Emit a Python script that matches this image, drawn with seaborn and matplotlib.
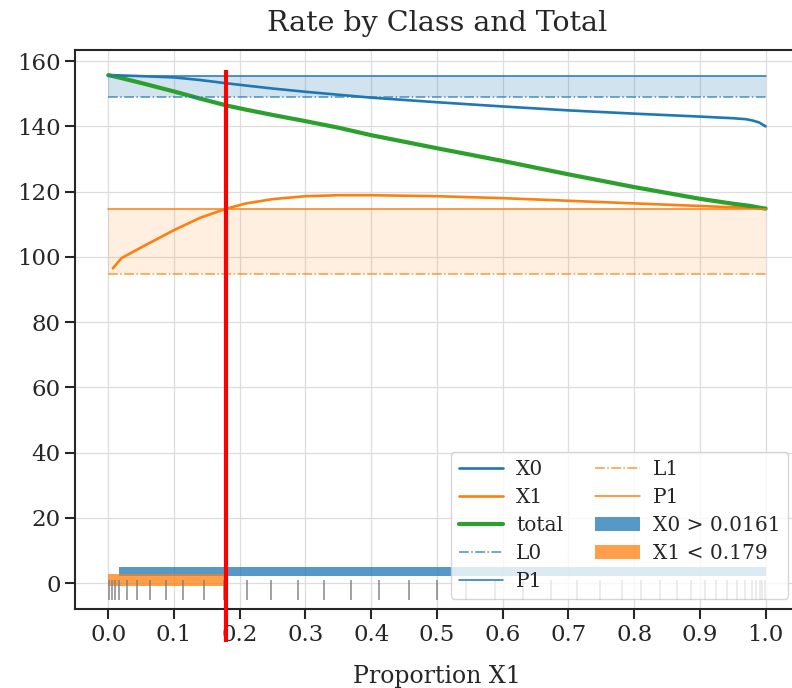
import numpy as np
import matplotlib
matplotlib.use("Agg")
import matplotlib.pyplot as plt
import seaborn as sns

# curve data
prop = [0.0, 0.007, 0.02, 0.05, 0.1, 0.14, 0.18, 0.21, 0.25, 0.3, 0.35, 0.4,
        0.5, 0.6, 0.7, 0.8, 0.9, 0.95, 0.97, 0.98, 0.99, 1.0]
rate_x0 = [155.7, 155.7, 155.6, 155.4, 155.0, 154.2, 153.2, 152.5, 151.6, 150.6, 149.7, 148.8,
           147.4, 146.1, 144.9, 143.9, 143.0, 142.5, 142.2, 141.8, 141.2, 140.0]
rate_total = [155.7, 155.4, 154.8, 153.3, 150.7, 148.5, 146.4, 145.1, 143.5, 141.6, 139.6, 137.3,
              133.3, 129.4, 125.3, 121.4, 117.8, 116.3, 115.8, 115.5, 115.1, 114.8]
prop_x1 = prop[1:]
rate_x1 = [96.5, 99.6, 102.9, 108.2, 112.0, 114.8, 116.4, 117.7, 118.6, 118.9, 118.9,
           118.6, 118.0, 117.2, 116.4, 115.6, 115.2, 115.1, 115.0, 114.9, 114.8]

# reference levels
L0, P0 = 149.1, 155.5
L1, P1 = 94.9, 114.8
x_lo, x_hi = 0.0, 1.0

# thresholds
thr_x0 = 0.0161
thr_x1 = 0.179

# rug positions
rug = [0.0015, 0.006, 0.010, 0.017, 0.028, 0.044, 0.064, 0.088, 0.114, 0.145, 0.176,
       0.211, 0.247, 0.288, 0.328, 0.369, 0.412, 0.457, 0.500, 0.544, 0.589, 0.631,
       0.674, 0.713, 0.748, 0.781, 0.811, 0.839, 0.865, 0.887, 0.908, 0.925, 0.941,
       0.956, 0.968, 0.980, 0.986, 0.991, 0.995, 0.999]

sns.set_style("ticks")
plt.rcParams['font.family'] = ['DejaVu Serif']
plt.rcParams['axes.linewidth'] = 1.5

fig = plt.figure(figsize=(7.92, 6.88), dpi=100)
ax = fig.add_axes([0.0952, 0.1144, 0.913, 0.8129])

c0, c1, c2 = sns.color_palette()[:3]

# bands
ax.fill_between([x_lo, x_hi], L0, P0, color=c0, alpha=0.2, lw=0)
ax.fill_between([x_lo, x_hi], L1, P1, color=c1, alpha=0.12, lw=0)

h_x0 = sns.lineplot(x=prop, y=rate_x0, color=c0, lw=1.9, ax=ax).lines[-1]
h_x1 = sns.lineplot(x=prop_x1, y=rate_x1, color=c1, lw=1.9, ax=ax).lines[-1]
h_tot = sns.lineplot(x=prop, y=rate_total, color=c2, lw=3.0, ax=ax).lines[-1]

h_l0, = ax.plot([x_lo, x_hi], [L0, L0], color=c0, ls='-.', lw=1.1, alpha=0.8)
h_p0, = ax.plot([x_lo, x_hi], [P0, P0], color=c0, ls='-', lw=1.1)
h_l1, = ax.plot([x_lo, x_hi], [L1, L1], color=c1, ls='-.', lw=1.1, alpha=0.8)
h_p1, = ax.plot([x_lo, x_hi], [P1, P1], color=c1, ls='-', lw=1.1)

# threshold bars
h_b0 = ax.broken_barh([(thr_x0, x_hi - thr_x0)], (2.1, 3.0), color=c0, alpha=0.75, lw=0)
h_b1 = ax.broken_barh([(x_lo, thr_x1 - x_lo)], (-1.0, 3.8), color=c1, alpha=0.75, lw=0)

# rug
ax.plot(rug, [-2.0] * len(rug), '|', color='gray', ms=14, mew=1.3, alpha=0.8)

# threshold marker, runs a little below the axis
ax.plot([thr_x1, thr_x1], [-0.058, 0.964], color='red', lw=3.0,
        transform=ax.get_xaxis_transform(),
        solid_capstyle='butt', clip_on=False, zorder=5)

ax.set_xlim(-0.05, 1.05)
ax.set_ylim(-8, 163.4)
ax.set_xticks(np.arange(0, 1.01, 0.1))
ax.set_yticks(np.arange(0, 161, 20))
ax.tick_params(labelsize=16.5, length=7, width=1.5)
ax.grid(True, color='#dddddd', lw=0.9)
ax.set_axisbelow(True)
ax.set_title('Rate by Class and Total', fontsize=20.5, pad=14)
ax.set_xlabel('Proportion X1', fontsize=17, labelpad=14)

ax.legend([h_x0, h_x1, h_tot, h_l0, h_p0, h_l1, h_p1, h_b0, h_b1],
          ['X0', 'X1', 'total', 'L0', 'P1', 'L1', 'P1',
           'X0 > %s' % thr_x0, 'X1 < %s' % thr_x1],
          loc='lower right', ncol=2, fontsize=14.5, framealpha=0.8,
          columnspacing=1.6, handlelength=2.2, handletextpad=0.65,
          labelspacing=0.45)

fig.savefig('out.png', dpi=100)
